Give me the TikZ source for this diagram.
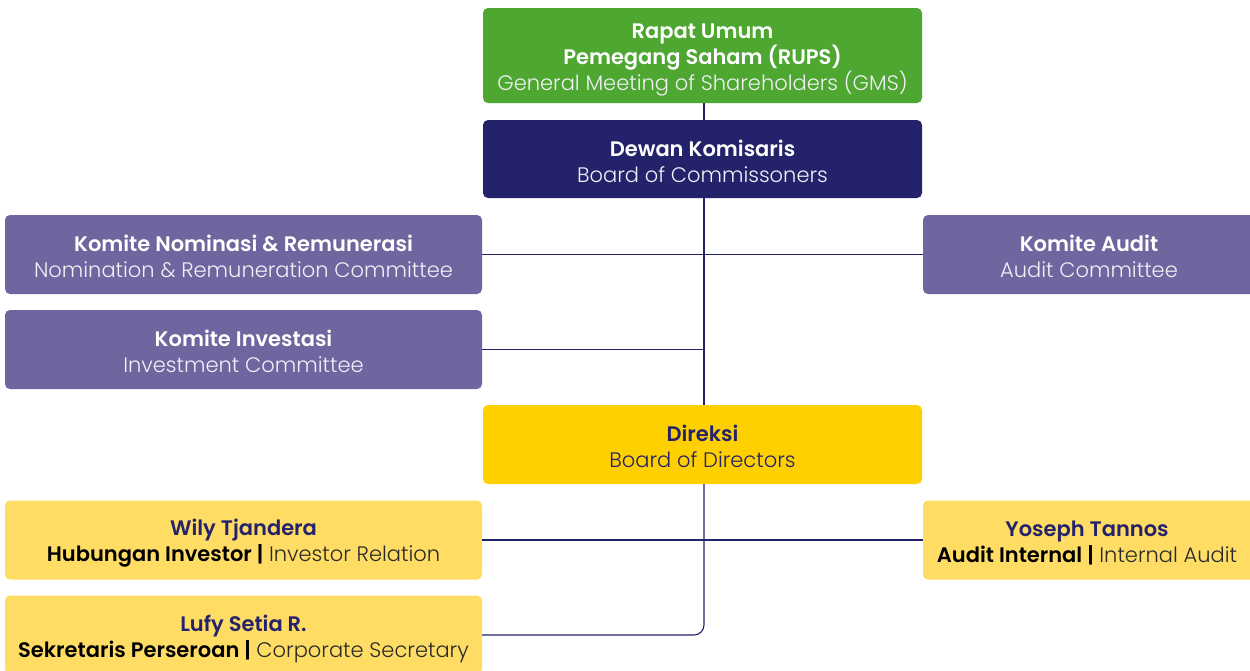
\documentclass[tikz,border=0pt]{standalone}
\usepackage{fontspec}
\setmainfont{Poppins}[BoldFont={* SemiBold}]
\IfFontExistsTF{Poppins Light}{\newfontfamily\lightf{Poppins Light}}{\newfontfamily\lightf{Poppins}}
\definecolor{cgreen}{HTML}{4DA731}
\definecolor{cnavy}{HTML}{24226A}
\definecolor{cpurple}{HTML}{6E669E}
\definecolor{cyellow}{HTML}{FFD000}
\definecolor{clyellow}{HTML}{FFDC64}
\definecolor{cgraytext}{HTML}{2A2A2A}
\definecolor{clight}{HTML}{F0F0F6}
\newcommand{\lt}[1]{{\lightf #1}}
\begin{document}
\begin{tikzpicture}[x=1pt,y=-1pt,
  box/.style={rectangle, rounded corners=5pt, inner sep=0pt},
  wide/.style={box, minimum width=439pt, minimum height=79pt},
  side/.style={box, minimum width=477pt, minimum height=79pt},
  right/.style={box, minimum width=332pt, minimum height=79pt},
  txt/.style={inner sep=0pt, align=center, font=\fontsize{21}{26}\selectfont},
  conn/.style={draw=cnavy, line width=1.1pt},
]
\useasboundingbox (0,0) rectangle (1250,670);
\clip (0,0) rectangle (1250,670);
\fill[white] (0,0) rectangle (1250,670);

\node[wide, fill=cgreen, minimum height=95pt] (rups) at (702.5,55.5) {};
\node[txt, text=white] (rupsT) at ([yshift=-4pt]rups.center)
  {\textbf{Rapat Umum}\\\textbf{Pemegang Saham (RUPS)}\\{\color{clight}\lt{General Meeting of Shareholders (GMS)}}};
\node[wide, fill=cnavy, minimum height=78pt] (dewan) at (702.5,159) {};
\node[txt, text=white] (dewanT) at ([yshift=-2.5pt]dewan.center)
  {\textbf{Dewan Komisaris}\\{\color{clight}\lt{Board of Commissoners}}};
\node[side, fill=cpurple] (nom) at (243.5,254.5) {};
\node[txt, text=white] (nomT) at ([yshift=-2pt]nom.center)
  {\textbf{Komite Nominasi \& Remunerasi}\\{\color{clight}\lt{Nomination \& Remuneration Committee}}};
\node[right, fill=cpurple] (aud) at (1089,254.5) {};
\node[txt, text=white] (audT) at ([yshift=-2pt]aud.center)
  {\textbf{Komite Audit}\\{\color{clight}\lt{Audit Committee}}};
\node[side, fill=cpurple] (inv) at (243.5,349.5) {};
\node[txt, text=white] (invT) at ([yshift=-2pt]inv.center)
  {\textbf{Komite Investasi}\\{\color{clight}\lt{Investment Committee}}};
\node[wide, fill=cyellow] (dir) at (702.5,444.5) {};
\node[txt, text=cnavy] (dirT) at ([yshift=-2pt]dir.center)
  {\textbf{Direksi}\\\lt{Board of Directors}};
\node[side, fill=clyellow] (wily) at (243.5,540) {};
\node[txt] (wilyT) at ([yshift=-3.5pt]wily.center)
  {\textbf{\color{cnavy}Wily Tjandera}\\\textbf{Hubungan Investor |} {\color{cgraytext}\lt{Investor Relation}}};
\node[right, fill=clyellow] (yos) at (1089,540) {};
\node[txt] (yosT) at ([xshift=-2pt,yshift=-3pt]yos.center)
  {\textbf{\color{cnavy}Yoseph Tannos}\\\textbf{Audit Internal |} {\color{cgraytext}\lt{Internal Audit}}};
\node[side, fill=clyellow] (lufy) at (243.5,635) {};
\node[txt] (lufyT) at ([yshift=-3.5pt]lufy.center)
  {\textbf{\color{cnavy}Lufy Setia R.}\\\textbf{Sekretaris Perseroan |} {\color{cgraytext}\lt{Corporate Secretary}}};

\coordinate (cx) at (704,0);
\draw[conn] (rups.south -| cx) -- (dewan.north -| cx);
\draw[conn] (dewan.south -| cx) -- (dir.north -| cx);
\draw[conn] (nom.east) -- (aud.west);
\draw[conn] (inv.east) -- (inv.east -| cx);
\draw[conn] (wily.east) -- (yos.west);
\draw[conn, rounded corners=10pt] (dir.south -| cx) |- (lufy.east);
\end{tikzpicture}
\end{document}
